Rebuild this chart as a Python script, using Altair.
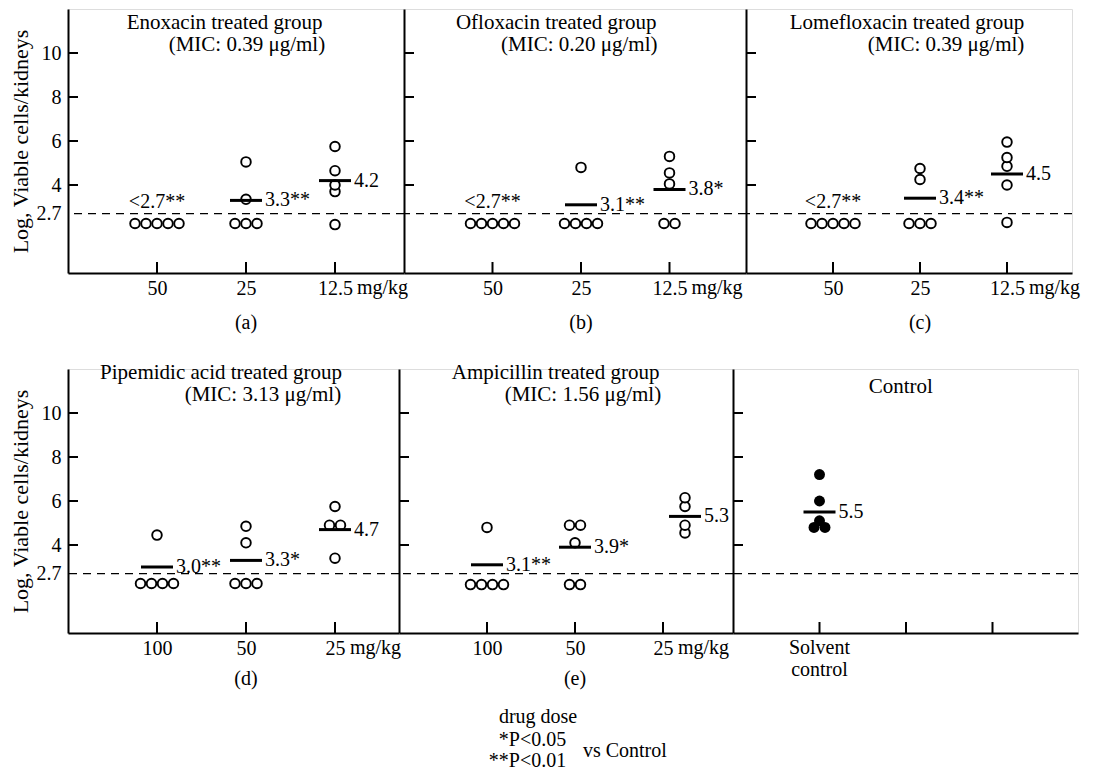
import altair as alt
import pandas as pd
from collections import Counter, defaultdict

FONT = "Liberation Serif"

# ------------------------------------------------------------------ data
PANELS = ["a", "b", "c", "d", "e", "f"]

TITLE_LINE1 = {
    "a": "Enoxacin treated group",
    "b": "Ofloxacin treated group",
    "c": "Lomefloxacin treated group",
    "d": "Pipemidic acid treated group",
    "e": "Ampicillin treated group",
    "f": "Control",
}
TITLE_LINE2 = {
    "a": "(MIC: 0.39 μg/ml)",
    "b": "(MIC: 0.20 μg/ml)",
    "c": "(MIC: 0.39 μg/ml)",
    "d": "(MIC: 3.13 μg/ml)",
    "e": "(MIC: 1.56 μg/ml)",
}

DOSES = {
    "a": ["50", "25", "12.5"],
    "b": ["50", "25", "12.5"],
    "c": ["50", "25", "12.5"],
    "d": ["100", "50", "25"],
    "e": ["100", "50", "25"],
    "f": ["Solvent control"],
}
DOSE_UNIT = "mg/kg"

# Log viable cells / kidneys, one value per mouse (values below 2.7 = below detection)
VALUES = {
    "a": [[2.25, 2.25, 2.25, 2.25, 2.25],
          [2.25, 2.25, 2.25, 3.35, 5.05],
          [2.2, 3.7, 4.0, 4.65, 5.75]],
    "b": [[2.25, 2.25, 2.25, 2.25, 2.25],
          [2.25, 2.25, 2.25, 2.25, 4.8],
          [2.25, 2.25, 4.05, 4.55, 5.3]],
    "c": [[2.25, 2.25, 2.25, 2.25, 2.25],
          [2.25, 2.25, 2.25, 4.25, 4.75],
          [2.3, 4.0, 4.85, 5.25, 5.95]],
    "d": [[2.25, 2.25, 2.25, 2.25, 4.45],
          [2.25, 2.25, 2.25, 4.1, 4.85],
          [3.4, 4.9, 4.9, 5.75]],
    "e": [[2.2, 2.2, 2.2, 2.2, 4.8],
          [2.2, 2.2, 4.1, 4.9, 4.9],
          [4.55, 4.9, 5.75, 6.15]],
    "f": [[4.8, 4.8, 5.1, 6.0, 7.2]],
}

# group means (None = below detection limit) and their printed labels
MEANS = {
    "a": [None, 3.3, 4.2],
    "b": [None, 3.1, 3.8],
    "c": [None, 3.4, 4.5],
    "d": [3.0, 3.3, 4.7],
    "e": [3.1, 3.9, 5.3],
    "f": [5.5],
}
MEAN_LABELS = {
    "a": ["<2.7**", "3.3**", "4.2"],
    "b": ["<2.7**", "3.1**", "3.8*"],
    "c": ["<2.7**", "3.4**", "4.5"],
    "d": ["3.0**", "3.3*", "4.7"],
    "e": ["3.1**", "3.9*", "5.3"],
    "f": ["5.5"],
}
DETECTION_LIMIT = 2.7
Y_TICKS = [4, 6, 8, 10]
Y_LABELS = [2.7, 4, 6, 8, 10]
Y_TITLE = "Log, Viable cells/kidneys"
FOOTNOTES = ["drug dose", "*P<0.05", "**P<0.01", "vs  Control"]

# ------------------------------------------------------------------ layout
H = 264
YMAX = 12
LAYOUT = {
    "a": dict(width=336, ppu=89, t1=(1.76, 11.36), t2=(2.01, 10.36), sub=50, unit_dx=22),
    "b": dict(width=342, ppu=88.5, t1=(1.72, 11.36), t2=(1.98, 10.36), sub=50, unit_dx=22),
    "c": dict(width=326, ppu=87, t1=(1.85, 11.36), t2=(2.30, 10.36), sub=50, unit_dx=22),
    "d": dict(width=331, ppu=89, t1=(1.72, 11.8), t2=(2.19, 10.82), sub=46, unit_dx=15),
    "e": dict(width=334, ppu=88, t1=(1.78, 11.8), t2=(2.09, 10.82), sub=46, unit_dx=15),
    "f": dict(width=345, ppu=86.5, t1=(1.94, 11.2), t2=None, sub=None, unit_dx=None),
}
ROW_GAP = 27
GROUP_SHIFT = {("e", 2): 0.25}
DOT_PX = 11
LINE_HALF_PX = 16
TXT = dict(font=FONT, fontSize=20, color="black")


def make_panel(pid):
    L = LAYOUT[pid]
    w, ppu = L["width"], L["ppu"]
    xs = alt.Scale(domain=[0, w / ppu], nice=False, zero=False)
    ys = alt.Scale(domain=[0, YMAX], nice=False, zero=False)
    show_y = pid in ("a", "d")
    doses = DOSES[pid]
    if pid == "f":
        label_expr = "''"
    else:
        label_expr = " : ".join(
            f"datum.value == {i + 1} ? '{d}'" for i, d in enumerate(doses)
        ) + " : ''"
    xaxis = alt.Axis(
        values=[1, 2, 3], ticks=False, tickSize=0, labelExpr=label_expr,
        labels=(pid != "f"), labelFont=FONT, labelFontSize=20, labelColor="black",
        labelPadding=5, labelFlush=False, domainColor="black", domainWidth=2,
        grid=False, title=None,
    )
    yaxis = alt.Axis(
        values=Y_LABELS, ticks=False, tickSize=0, labels=show_y,
        labelExpr="datum.value == 2.7 ? '2.7' : format(datum.value, 'd')",
        labelFont=FONT, labelFontSize=20, labelColor="black", labelPadding=7,
        domainColor="black", domainWidth=2, grid=False,
        title=Y_TITLE if show_y else None,
        titleFont=FONT, titleFontSize=22, titleFontWeight="normal",
        titleColor="black", titlePadding=4,
    )

    def X(f="x"):
        return alt.X(f"{f}:Q", scale=xs, axis=xaxis)

    def Y(f="y"):
        return alt.Y(f"{f}:Q", scale=ys, axis=yaxis)

    step = DOT_PX / ppu
    half = LINE_HALF_PX / ppu
    pts, lines, rlabels, alabels = [], [], [], []
    for gi, vals in enumerate(VALUES[pid]):
        pos = gi + 1 + GROUP_SHIFT.get((pid, gi), 0)
        cnt = Counter(vals)
        seen = defaultdict(int)
        for v in vals:
            n, i = cnt[v], seen[v]
            seen[v] += 1
            pts.append({"x": pos + (i - (n - 1) / 2) * step, "y": v})
        m = MEANS[pid][gi]
        lab = MEAN_LABELS[pid][gi]
        if m is None:
            alabels.append({"x": pos, "y": 3.25, "t": lab})
        else:
            lines.append({"x": pos - half, "x2": pos + half, "y": m})
            rlabels.append({"x": pos + half, "y": m, "t": lab})

    layers = []
    layers.append(
        alt.Chart(pd.DataFrame({"y": [DETECTION_LIMIT]}))
        .mark_rule(color="black", strokeWidth=1.3, strokeDash=[8, 6])
        .encode(y=Y())
    )
    layers.append(
        alt.Chart(pd.DataFrame({"y": Y_TICKS}))
        .mark_rule(color="black", strokeWidth=2)
        .encode(y=Y(), x=alt.value(0), x2=alt.value(10))
    )
    layers.append(
        alt.Chart(pd.DataFrame({"x": [1, 2, 3]}))
        .mark_rule(color="black", strokeWidth=2)
        .encode(x=X(), y=alt.value(H), y2=alt.value(H - 11))
    )
    filled = pid == "f"
    layers.append(
        alt.Chart(pd.DataFrame(pts))
        .mark_point(shape="circle", filled=filled, size=92 if not filled else 120,
                    strokeWidth=1.9, color="black", opacity=1,
                    fill="black" if filled else "white")
        .encode(x=X(), y=Y())
    )
    if lines:
        layers.append(
            alt.Chart(pd.DataFrame(lines))
            .mark_rule(color="black", strokeWidth=3)
            .encode(x=X(), x2="x2:Q", y=Y())
        )
        layers.append(
            alt.Chart(pd.DataFrame(rlabels))
            .mark_text(align="left", baseline="middle", dx=3, **TXT)
            .encode(x=X(), y=Y(), text="t:N")
        )
    if alabels:
        layers.append(
            alt.Chart(pd.DataFrame(alabels))
            .mark_text(align="center", baseline="middle", **TXT)
            .encode(x=X(), y=Y(), text="t:N")
        )
    # panel titles
    trows = [{"x": L["t1"][0], "y": L["t1"][1], "t": TITLE_LINE1[pid]}]
    if L["t2"] is not None:
        trows.append({"x": L["t2"][0], "y": L["t2"][1], "t": TITLE_LINE2[pid]})
    layers.append(
        alt.Chart(pd.DataFrame(trows))
        .mark_text(align="center", baseline="middle", font=FONT, fontSize=21, color="black")
        .encode(x=X(), y=Y(), text="t:N")
    )
    if pid != "f":
        layers.append(
            alt.Chart(pd.DataFrame({"x": [3], "t": [DOSE_UNIT]}))
            .mark_text(align="left", baseline="top", dx=L["unit_dx"], **TXT)
            .encode(x=X(), y=alt.value(H + 5), text="t:N")
        )
        layers.append(
            alt.Chart(pd.DataFrame({"x": [2], "t": [f"({pid})"]}))
            .mark_text(align="center", baseline="middle", **TXT)
            .encode(x=X(), y=alt.value(H + L["sub"]), text="t:N")
        )
    else:
        parts = doses[0].split(" ")
        for k, p in enumerate(parts):
            layers.append(
                alt.Chart(pd.DataFrame({"x": [1], "t": [p]}))
                .mark_text(align="center", baseline="middle", **TXT)
                .encode(x=X(), y=alt.value(H + 15 + 22 * k), text="t:N")
            )
    if pid == "e":
        layers.append(
            alt.Chart(pd.DataFrame({"x": [1.58], "t": [FOOTNOTES[0]]}))
            .mark_text(align="center", baseline="middle", **TXT)
            .encode(x=X(), y=alt.value(H + 84), text="t:N")
        )
        for k, yy in ((1, H + 107), (2, H + 128)):
            layers.append(
                alt.Chart(pd.DataFrame({"x": [1.90], "t": [FOOTNOTES[k]]}))
                .mark_text(align="right", baseline="middle", **TXT)
                .encode(x=X(), y=alt.value(yy), text="t:N")
            )
        layers.append(
            alt.Chart(pd.DataFrame({"x": [2.09], "t": [FOOTNOTES[3]]}))
            .mark_text(align="left", baseline="middle", **TXT)
            .encode(x=X(), y=alt.value(H + 118), text="t:N")
        )

    return alt.layer(*layers).properties(width=w, height=H)


top_row = alt.hconcat(*[make_panel(p) for p in PANELS[:3]], spacing=0, bounds="flush")
bottom_row = alt.hconcat(*[make_panel(p) for p in PANELS[3:]], spacing=0, bounds="flush")
chart = (
    alt.vconcat(top_row, bottom_row, spacing=ROW_GAP)
    .properties(padding={"left": 0, "top": 0, "right": 0, "bottom": 0})
    .configure_view(stroke=None)
    .configure(font=FONT)
)

chart.save("out.html", embed_options={"renderer": "svg", "actions": False})
